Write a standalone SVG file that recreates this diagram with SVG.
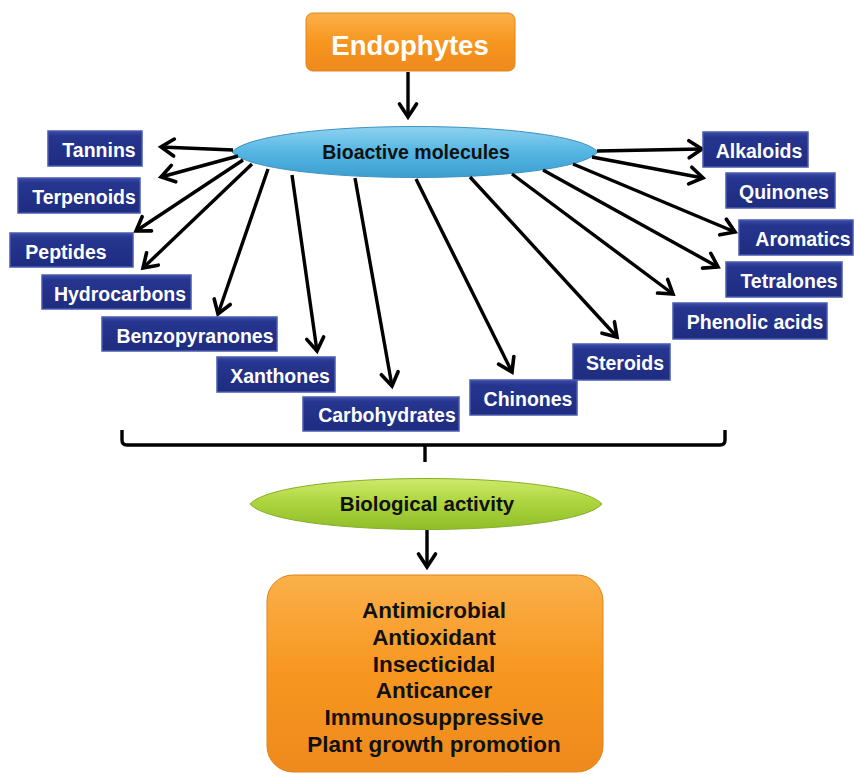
<svg xmlns="http://www.w3.org/2000/svg" width="854" height="776" viewBox="0 0 854 776">
<defs>
<linearGradient id="gOrange" x1="0" y1="0" x2="0" y2="1">
<stop offset="0" stop-color="#FBB04A"/><stop offset="0.5" stop-color="#F7961F"/><stop offset="1" stop-color="#EE8A1E"/>
</linearGradient>
<linearGradient id="gBlueBox" x1="0" y1="0" x2="0" y2="1">
<stop offset="0" stop-color="#3A4BA6"/><stop offset="0.15" stop-color="#26358F"/><stop offset="1" stop-color="#1E2C80"/>
</linearGradient>
<linearGradient id="gCyan" x1="0" y1="0" x2="0" y2="1">
<stop offset="0" stop-color="#8FD2F0"/><stop offset="0.5" stop-color="#55B6E3"/><stop offset="1" stop-color="#3C9ED0"/>
</linearGradient>
<linearGradient id="gGreen" x1="0" y1="0" x2="0" y2="1">
<stop offset="0" stop-color="#CFEA6A"/><stop offset="0.5" stop-color="#ABD33C"/><stop offset="1" stop-color="#90BE2A"/>
</linearGradient>
<marker id="arr" markerUnits="userSpaceOnUse" markerWidth="26" markerHeight="26" refX="14" refY="13" orient="auto" overflow="visible">
<path d="M1,4.5 L14,13 L1,21.5" fill="none" stroke="#000" stroke-width="3.6" stroke-linecap="round" stroke-linejoin="miter"/>
</marker>
</defs>
<style>
.bx rect{fill:url(#gBlueBox);stroke:#4A5AAE;stroke-width:1.5}
.bx text{fill:#fff;font-family:"Liberation Sans",Arial,sans-serif;font-weight:bold;font-size:19.5px;text-anchor:middle}
.con line,.con path{stroke:#000;stroke-width:3.4;fill:none}
.con line{marker-end:url(#arr)}
.dark{font-family:"Liberation Sans",Arial,sans-serif;font-weight:bold;text-anchor:middle;fill:#111}
</style>
<rect width="854" height="776" fill="#fff"/>

<g id="endophytes">
<rect x="306" y="13" width="209" height="58" rx="7" fill="url(#gOrange)" stroke="#E08418" stroke-width="1"/>
<text x="410" y="55" font-family="'Liberation Sans',Arial,sans-serif" font-weight="bold" font-size="27.5" fill="#fff" text-anchor="middle">Endophytes</text>
</g>

<g id="bioactive">
<path d="M232,152 C262,118 568,118 598,152 C568,186 262,186 232,152 Z" fill="url(#gCyan)" stroke="#3E92C2" stroke-width="1"/>
<text class="dark" x="416" y="159" font-size="19.5" fill="#0E1E2E">Bioactive molecules</text>
</g>

<g id="connectors" class="con">
<line x1="408" y1="72" x2="408" y2="117"/>
<line x1="233" y1="150" x2="161" y2="147"/>
<line x1="238" y1="156" x2="161" y2="177"/>
<line x1="243" y1="160" x2="136" y2="231"/>
<line x1="252" y1="164" x2="143" y2="268"/>
<line x1="268" y1="169" x2="218" y2="314"/>
<line x1="292" y1="175" x2="317" y2="351"/>
<line x1="355" y1="178" x2="392" y2="386"/>
<line x1="416" y1="179" x2="512" y2="372"/>
<line x1="470" y1="177" x2="617" y2="337"/>
<line x1="512" y1="174" x2="673" y2="294"/>
<line x1="543" y1="170" x2="718" y2="267"/>
<line x1="573" y1="164" x2="735" y2="232"/>
<line x1="592" y1="157" x2="703" y2="178"/>
<line x1="597" y1="151" x2="702" y2="149"/>
<path d="M122,430 L122,440 Q122,445 127,445 L720,445 Q725,445 725,440 L725,430"/>
<path d="M425,445 L425,462"/>
<line x1="427" y1="530" x2="427" y2="567"/>
</g>

<g id="tannins" class="bx"><rect x="48" y="131" width="94" height="35"/><text x="99" y="157">Tannins</text></g>
<g id="terpenoids" class="bx"><rect x="18" y="178" width="122" height="35"/><text x="84" y="204">Terpenoids</text></g>
<g id="peptides" class="bx"><rect x="10" y="233" width="123" height="34"/><text x="66" y="259">Peptides</text></g>
<g id="hydrocarbons" class="bx"><rect x="42" y="275" width="149" height="34"/><text x="120" y="301">Hydrocarbons</text></g>
<g id="benzopyranones" class="bx"><rect x="102" y="317" width="175" height="34"/><text x="195" y="343">Benzopyranones</text></g>
<g id="xanthones" class="bx"><rect x="217" y="357" width="118" height="35"/><text x="280" y="383">Xanthones</text></g>
<g id="carbohydrates" class="bx"><rect x="303" y="397" width="156" height="34"/><text x="387" y="422">Carbohydrates</text></g>
<g id="chinones" class="bx"><rect x="470" y="380" width="107" height="35"/><text x="528" y="406">Chinones</text></g>
<g id="steroids" class="bx"><rect x="573" y="344" width="97" height="36"/><text x="625" y="370">Steroids</text></g>
<g id="alkaloids" class="bx"><rect x="703" y="132" width="105" height="35"/><text x="759" y="158">Alkaloids</text></g>
<g id="quinones" class="bx"><rect x="726" y="173" width="109" height="35"/><text x="784" y="199">Quinones</text></g>
<g id="aromatics" class="bx"><rect x="739" y="220" width="114" height="35"/><text x="803" y="246">Aromatics</text></g>
<g id="tetralones" class="bx"><rect x="726" y="262" width="116" height="35"/><text x="789" y="288">Tetralones</text></g>
<g id="phenolic-acids" class="bx"><rect x="673" y="303" width="154" height="36"/><text x="755" y="329">Phenolic acids</text></g>

<g id="biological">
<path d="M250,504 C280,470 572,470 602,504 C572,538 280,538 250,504 Z" fill="url(#gGreen)" stroke="#86B02A" stroke-width="1"/>
<text class="dark" x="427" y="511" font-size="20.5">Biological activity</text>
</g>

<g id="activities">
<rect x="267" y="575" width="336" height="197" rx="26" fill="url(#gOrange)" stroke="#E08418" stroke-width="1"/>
<g class="dark" font-size="22.5">
<text x="434" y="618">Antimicrobial</text>
<text x="434" y="645">Antioxidant</text>
<text x="434" y="672">Insecticidal</text>
<text x="434" y="698">Anticancer</text>
<text x="434" y="725">Immunosuppressive</text>
<text x="434" y="752">Plant growth promotion</text>
</g>
</g>
</svg>
